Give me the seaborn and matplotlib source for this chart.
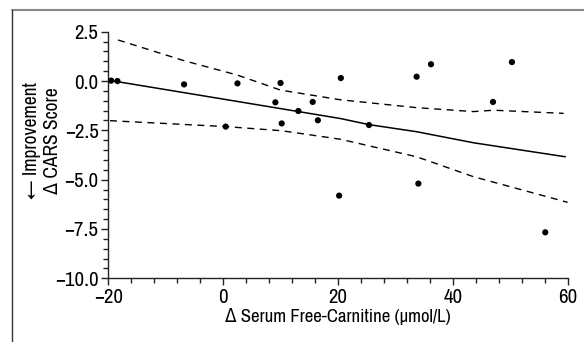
import numpy as np
import pandas as pd
import matplotlib
matplotlib.use('Agg')
import matplotlib.pyplot as plt
from matplotlib.lines import Line2D
from matplotlib.ticker import MultipleLocator
from matplotlib import font_manager
import seaborn as sns

carnitine_delta = [-19.5, -18.4, -6.8, 2.5, 10.0, 20.5, 9.1, 15.6, 13.1, 16.5,
                   10.2, 0.45, 20.2, 33.7, 36.2, 50.3, 47.0, 25.4, 34.0, 56.1]
cars_delta = [0.02, 0.0, -0.17, -0.12, -0.1, 0.15, -1.08, -1.06, -1.52, -1.99,
              -2.15, -2.31, -5.81, 0.22, 0.85, 0.96, -1.06, -2.23, -5.2, -7.67]

# fitted line
fit_x = [-19.5, 0.5, 20.4, 25.4, 33.7, 43.6, 59.6]
fit_y = [0.02, -0.94, -1.9, -2.21, -2.57, -3.13, -3.84]

# upper / lower bands
upper_x = [-18.3, -6.8, 2.5, 10.0, 20.4, 33.7, 43.6, 47.1, 59.3]
upper_y = [2.08, 1.03, 0.3, -0.46, -0.95, -1.35, -1.55, -1.48, -1.64]
lower_x = [-19.7, 0.45, 10.2, 20.4, 33.7, 43.6, 60.0]
lower_y = [-2.01, -2.31, -2.52, -2.95, -3.84, -4.85, -6.15]

sns.set_style('ticks')
names = sorted({f.name for f in font_manager.fontManager.ttflist})
narrow = [n for n in names if 'Narrow' in n or 'Condensed' in n]
plt.rcParams['font.family'] = narrow[:1] + ['DejaVu Sans']
plt.rcParams['font.stretch'] = 'condensed'
plt.rcParams['font.size'] = 14
plt.rcParams['text.color'] = 'black'
plt.rcParams['axes.labelcolor'] = 'black'
plt.rcParams['xtick.color'] = 'black'
plt.rcParams['ytick.color'] = 'black'

fig = plt.figure(figsize=(5.84, 3.42), dpi=100)
ax = fig.add_axes([0.1854, 0.1863, 0.7866, 0.721])

sns.lineplot(x=fit_x, y=fit_y, ax=ax, color='black', linewidth=1.1)
sns.lineplot(x=upper_x, y=upper_y, ax=ax, color='black', linewidth=1.0,
             linestyle=(0, (5, 4)))
sns.lineplot(x=lower_x, y=lower_y, ax=ax, color='black', linewidth=1.0,
             linestyle=(0, (5, 4)))
sns.scatterplot(x=carnitine_delta, y=cars_delta, ax=ax, color='black',
                s=20, edgecolor='none', zorder=5, clip_on=False)

ax.set_xlim(-20, 60)
ax.set_ylim(-10, 2.5)
ax.xaxis.set_major_locator(MultipleLocator(20))
ax.xaxis.set_minor_locator(MultipleLocator(4))
ax.yaxis.set_major_locator(MultipleLocator(2.5))
ax.yaxis.set_minor_locator(MultipleLocator(0.5))
ax.tick_params(which='major', length=5, width=1, color='#222222', labelsize=15, pad=2)
ax.tick_params(which='minor', length=3.5, width=1, color='#222222')
sns.despine(ax=ax)
for s in ['left', 'bottom']:
    ax.spines[s].set_color('#222222')
    ax.spines[s].set_linewidth(1)

ax.set_xlabel('Δ Serum Free-Carnitine (μmol/L)', fontsize=13.5, labelpad=1)
ax.set_ylabel('← Improvement\nΔ CARS Score', fontsize=14, linespacing=1.15)
ax.yaxis.set_label_coords(-0.10, 0.557)

# panel frame (top and left edges)
fig.add_artist(Line2D([12 / 584, 1], [1 - 10 / 342, 1 - 10 / 342],
                      transform=fig.transFigure, color='#8a8a8a', linewidth=1.5))
fig.add_artist(Line2D([12 / 584, 12 / 584], [0, 1 - 10 / 342],
                      transform=fig.transFigure, color='#333333', linewidth=1.0))

fig.savefig('out.png', dpi=100)
